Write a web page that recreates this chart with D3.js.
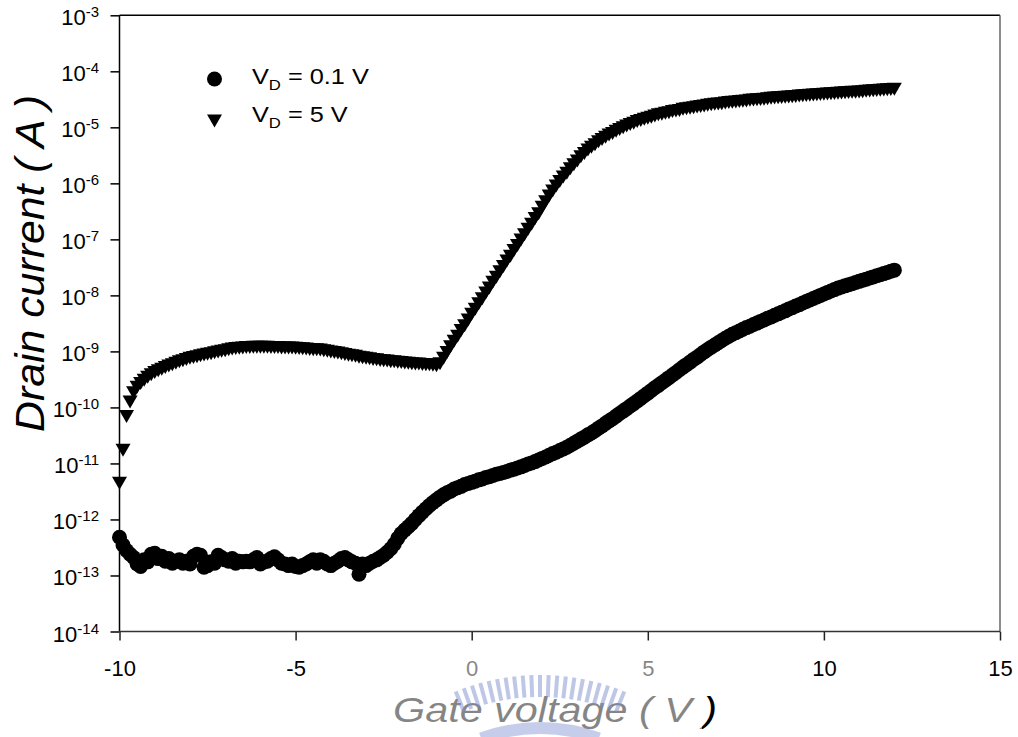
<!DOCTYPE html>
<html>
<head>
<meta charset="utf-8">
<script src="https://cdn.jsdelivr.net/npm/d3@7"></script>
<style>
  html, body { margin: 0; padding: 0; background: #fff; }
  svg { display: block; font-family: Arial, "Liberation Sans", sans-serif; }
</style>
</head>
<body>
<svg id="chart" width="1018" height="737"></svg>
<script>
// Gate sweep: -10 V to 12 V in 0.1 V steps
const gateVoltage = d3.range(-100, 121).map(k => k / 10);

// Drain current (A) at V_D = 0.1 V
const drainCurrentVd01 = [
  4.8e-13, 3.5e-13, 2.8e-13, 2.4e-13, 2.1e-13, 1.6e-13, 1.45e-13, 1.9e-13, 1.75e-13, 2.4e-13,
  2.5e-13, 2.0e-13, 2.2e-13, 1.8e-13, 2.0e-13, 1.65e-13, 1.8e-13, 1.9e-13, 1.65e-13, 1.8e-13,
  1.6e-13, 2.2e-13, 2.4e-13, 2.3e-13, 1.4e-13, 1.5e-13, 1.75e-13, 1.65e-13, 2.3e-13, 2.1e-13,
  1.9e-13, 1.8e-13, 2.0e-13, 1.65e-13, 1.8e-13, 1.75e-13, 1.8e-13, 1.75e-13, 1.9e-13, 2.1e-13,
  1.6e-13, 1.75e-13, 1.8e-13, 2.0e-13, 2.15e-13, 1.9e-13, 1.65e-13, 1.6e-13, 1.5e-13, 1.6e-13,
  1.45e-13, 1.4e-13, 1.5e-13, 1.6e-13, 1.75e-13, 1.9e-13, 1.65e-13, 1.9e-13, 1.8e-13, 1.6e-13,
  1.5e-13, 1.65e-13, 1.8e-13, 2.0e-13, 2.1e-13, 1.9e-13, 1.75e-13, 1.65e-13, 1.05e-13, 1.6e-13,
  1.5e-13, 1.65e-13, 1.8e-13, 1.9e-13, 2.1e-13, 2.3e-13, 2.6e-13, 3.0e-13, 3.6e-13, 4.6e-13,
  5.6e-13, 6.5e-13, 7.4e-13, 8.5e-13, 1.0e-12, 1.17e-12, 1.35e-12, 1.55e-12, 1.78e-12, 2.0e-12,
  2.24e-12, 2.5e-12, 2.75e-12, 3.0e-12, 3.2e-12, 3.5e-12, 3.7e-12, 3.9e-12, 4.2e-12, 4.4e-12,
  4.6e-12, 4.8e-12, 5.1e-12, 5.3e-12, 5.6e-12, 5.8e-12, 6.1e-12, 6.4e-12, 6.6e-12, 6.9e-12,
  7.2e-12, 7.6e-12, 7.9e-12, 8.3e-12, 8.7e-12, 9.2e-12, 9.8e-12, 1.02e-11, 1.08e-11, 1.15e-11,
  1.23e-11, 1.30e-11, 1.40e-11, 1.50e-11, 1.58e-11, 1.70e-11, 1.82e-11, 1.95e-11, 2.11e-11, 2.29e-11,
  2.5e-11, 2.72e-11, 2.95e-11, 3.24e-11, 3.5e-11, 3.85e-11, 4.27e-11, 4.68e-11, 5.2e-11, 5.75e-11,
  6.3e-11, 7.0e-11, 7.8e-11, 8.6e-11, 9.5e-11, 1.06e-10, 1.17e-10, 1.30e-10, 1.45e-10, 1.62e-10,
  1.80e-10, 2.0e-10, 2.24e-10, 2.48e-10, 2.75e-10, 3.05e-10, 3.4e-10, 3.8e-10, 4.2e-10, 4.7e-10,
  5.25e-10, 5.8e-10, 6.45e-10, 7.2e-10, 7.9e-10, 8.8e-10, 9.8e-10, 1.08e-9, 1.19e-9, 1.30e-9,
  1.43e-9, 1.57e-9, 1.72e-9, 1.86e-9, 2.02e-9, 2.16e-9, 2.32e-9, 2.48e-9, 2.66e-9, 2.82e-9,
  3.02e-9, 3.2e-9, 3.43e-9, 3.63e-9, 3.9e-9, 4.12e-9, 4.42e-9, 4.68e-9, 5.0e-9, 5.3e-9,
  5.7e-9, 6.0e-9, 6.45e-9, 6.8e-9, 7.3e-9, 7.8e-9, 8.3e-9, 8.8e-9, 9.4e-9, 1.0e-8,
  1.06e-8, 1.13e-8, 1.20e-8, 1.27e-8, 1.35e-8, 1.41e-8, 1.48e-8, 1.55e-8, 1.62e-8, 1.70e-8,
  1.78e-8, 1.86e-8, 1.95e-8, 2.04e-8, 2.14e-8, 2.24e-8, 2.34e-8, 2.45e-8, 2.57e-8, 2.69e-8,
  2.82e-8
];

// Drain current (A) at V_D = 5 V
const drainCurrentVd5 = [
  4.6e-12, 1.8e-11, 7.2e-11, 1.3e-10, 1.9e-10, 2.4e-10, 2.8e-10, 3.2e-10, 3.6e-10, 4.0e-10,
  4.4e-10, 4.7e-10, 5.0e-10, 5.4e-10, 5.7e-10, 6.0e-10, 6.4e-10, 6.8e-10, 7.1e-10, 7.5e-10,
  7.9e-10, 8.1e-10, 8.4e-10, 8.7e-10, 9.0e-10, 9.3e-10, 9.5e-10, 9.9e-10, 1.02e-9, 1.05e-9,
  1.07e-9, 1.11e-9, 1.15e-9, 1.17e-9, 1.19e-9, 1.20e-9, 1.22e-9, 1.22e-9, 1.23e-9, 1.23e-9,
  1.23e-9, 1.23e-9, 1.23e-9, 1.22e-9, 1.22e-9, 1.22e-9, 1.20e-9, 1.20e-9, 1.20e-9, 1.20e-9,
  1.19e-9, 1.17e-9, 1.16e-9, 1.15e-9, 1.13e-9, 1.12e-9, 1.11e-9, 1.10e-9, 1.07e-9, 1.05e-9,
  1.02e-9, 1.00e-9, 9.8e-10, 9.5e-10, 9.2e-10, 8.9e-10, 8.7e-10, 8.5e-10, 8.2e-10, 8.0e-10,
  7.9e-10, 7.7e-10, 7.5e-10, 7.4e-10, 7.2e-10, 7.1e-10, 7.0e-10, 6.8e-10, 6.8e-10, 6.7e-10,
  6.6e-10, 6.5e-10, 6.4e-10, 6.3e-10, 6.2e-10, 6.2e-10, 6.1e-10, 6.0e-10, 6.0e-10, 5.9e-10,
  5.8e-10, 6.3e-10, 7.9e-10, 1.0e-9, 1.26e-9, 1.58e-9, 1.95e-9, 2.45e-9, 3.0e-9, 3.8e-9,
  4.8e-9, 5.9e-9, 7.4e-9, 9.1e-9, 1.15e-8, 1.41e-8, 1.78e-8, 2.2e-8, 2.75e-8, 3.4e-8,
  4.3e-8, 5.2e-8, 6.6e-8, 8.1e-8, 1.02e-7, 1.26e-7, 1.58e-7, 1.95e-7, 2.45e-7, 3.0e-7,
  3.9e-7, 4.9e-7, 6.2e-7, 7.6e-7, 9.3e-7, 1.12e-6, 1.35e-6, 1.58e-6, 1.9e-6, 2.24e-6,
  2.6e-6, 3.1e-6, 3.55e-6, 4.1e-6, 4.6e-6, 5.1e-6, 5.75e-6, 6.3e-6, 6.9e-6, 7.6e-6,
  8.1e-6, 8.9e-6, 9.5e-6, 1.02e-5, 1.10e-5, 1.17e-5, 1.23e-5, 1.32e-5, 1.38e-5, 1.45e-5,
  1.51e-5, 1.58e-5, 1.66e-5, 1.74e-5, 1.78e-5, 1.86e-5, 1.9e-5, 2.0e-5, 2.04e-5, 2.09e-5,
  2.19e-5, 2.24e-5, 2.29e-5, 2.34e-5, 2.4e-5, 2.45e-5, 2.51e-5, 2.57e-5, 2.63e-5, 2.69e-5,
  2.72e-5, 2.75e-5, 2.82e-5, 2.88e-5, 2.92e-5, 2.95e-5, 3.02e-5, 3.05e-5, 3.09e-5, 3.16e-5,
  3.2e-5, 3.24e-5, 3.27e-5, 3.31e-5, 3.39e-5, 3.43e-5, 3.47e-5, 3.5e-5, 3.55e-5, 3.59e-5,
  3.63e-5, 3.67e-5, 3.72e-5, 3.76e-5, 3.8e-5, 3.85e-5, 3.89e-5, 3.94e-5, 3.98e-5, 4.03e-5,
  4.07e-5, 4.11e-5, 4.15e-5, 4.19e-5, 4.23e-5, 4.27e-5, 4.31e-5, 4.35e-5, 4.39e-5, 4.43e-5,
  4.47e-5, 4.52e-5, 4.57e-5, 4.62e-5, 4.68e-5, 4.73e-5, 4.79e-5, 4.84e-5, 4.9e-5, 4.95e-5,
  5.0e-5
];

const legendLabels = ["0.1 V", "5 V"];
const xTickValues = [-10, -5, 0, 5, 10, 15];
const yTickExponents = [-3, -4, -5, -6, -7, -8, -9, -10, -11, -12, -13, -14];
const xAxisTitle = "Gate voltage ( V )";
const yAxisTitle = "Drain current ( A )";

const svg = d3.select("#chart");
const plot = { left: 119.5, right: 1000, top: 15.3, bottom: 631.5 };

const x = d3.scaleLinear().domain([-10, 15]).range([plot.left, plot.right]);
const y = d3.scaleLog().domain([1e-14, 1e-3]).range([plot.bottom, plot.top]);

const lowVd = gateVoltage.map((v, i) => ({ v, id: drainCurrentVd01[i] }));
const highVd = gateVoltage.map((v, i) => ({ v, id: drainCurrentVd5[i] }));

// downward triangle marker
const triangleDown = {
  draw(ctx) {
    ctx.moveTo(-7.5, -5.5);
    ctx.lineTo(7.5, -5.5);
    ctx.lineTo(0, 7.5);
    ctx.closePath();
  }
};
const triPath = d3.symbol().type(triangleDown)();

// data markers
svg.append("g").selectAll("circle")
  .data(lowVd).join("circle")
  .attr("cx", d => x(d.v)).attr("cy", d => y(d.id))
  .attr("r", 7.5).attr("fill", "#000");

svg.append("g").selectAll("path")
  .data(highVd).join("path")
  .attr("d", triPath)
  .attr("transform", d => `translate(${x(d.v)},${y(d.id)})`)
  .attr("fill", "#000");

// y axis with outward ticks and 10^n labels
const yAxis = d3.axisLeft(y)
  .tickValues(yTickExponents.map(e => Math.pow(10, e)))
  .tickSize(9).tickSizeOuter(0).tickFormat(() => "");
const gy = svg.append("g").attr("transform", `translate(${plot.left},0)`).call(yAxis);
gy.select(".domain").remove();
gy.selectAll(".tick line").attr("stroke", "#000").attr("stroke-width", 1.5);
gy.selectAll(".tick").each(function (d) {
  const e = Math.round(Math.log10(d));
  const t = d3.select(this).append("text")
    .attr("x", -20.5).attr("y", 9.5)
    .attr("text-anchor", "end").attr("fill", "#000")
    .attr("font-size", 22).attr("dy", 0);
  t.append("tspan").text("10");
  t.append("tspan").attr("dy", -8).attr("font-size", 15).text(String(e));
});

// x axis
const xAxis = d3.axisBottom(x)
  .tickValues(xTickValues).tickSize(9).tickSizeOuter(0)
  .tickFormat(d => String(d));
const gx = svg.append("g").attr("transform", `translate(0,${plot.bottom})`).call(xAxis);
gx.select(".domain").remove();
gx.selectAll(".tick line").attr("stroke", "#222").attr("stroke-width", 1.5);
gx.selectAll(".tick text")
  .attr("y", 44.5).attr("dy", 0)
  .attr("font-size", 22).attr("fill", "#000")
  .attr("font-family", "Arial, 'Liberation Sans', sans-serif");

// frame
const frame = svg.append("g").attr("fill", "none").attr("stroke-width", 1.5);
frame.append("line").attr("x1", plot.left).attr("x2", plot.left)
  .attr("y1", plot.top).attr("y2", plot.bottom).attr("stroke", "#000");
frame.append("line").attr("x1", plot.left).attr("x2", plot.right)
  .attr("y1", plot.top).attr("y2", plot.top).attr("stroke", "#000");
frame.append("line").attr("x1", plot.right).attr("x2", plot.right)
  .attr("y1", plot.top).attr("y2", plot.bottom).attr("stroke", "#666");
frame.append("line").attr("x1", plot.left).attr("x2", plot.right)
  .attr("y1", plot.bottom).attr("y2", plot.bottom).attr("stroke", "#333");

// legend
const legend = svg.append("g");
const legendRows = [
  { label: legendLabels[0], marker: "circle", cy: 79, base: 84 },
  { label: legendLabels[1], marker: "triangle", cy: 120, base: 121.7 }
];
legendRows.forEach(r => {
  if (r.marker === "circle") {
    legend.append("circle").attr("cx", 214.5).attr("cy", r.cy).attr("r", 7.5).attr("fill", "#000");
  } else {
    legend.append("path").attr("d", triPath)
      .attr("transform", `translate(214.5,${r.cy})`).attr("fill", "#000");
  }
  const t = legend.append("text")
    .attr("transform", `translate(252,${r.base}) scale(1.15,1)`)
    .attr("font-size", 22).attr("fill", "#000");
  t.append("tspan").text("V");
  t.append("tspan").attr("dy", 6).attr("font-size", 14.5).text("D");
  t.append("tspan").attr("dy", -6).text(" = " + r.label);
});

// axis titles
svg.append("text")
  .attr("transform", "translate(44,263.5) rotate(-90)")
  .attr("text-anchor", "middle").attr("font-style", "italic")
  .attr("font-size", 40).attr("fill", "#000")
  .attr("textLength", 337).attr("lengthAdjust", "spacingAndGlyphs")
  .text(yAxisTitle);

svg.append("text")
  .attr("x", 555).attr("y", 722)
  .attr("text-anchor", "middle").attr("font-style", "italic")
  .attr("font-size", 35).attr("fill", "#000")
  .attr("textLength", 324).attr("lengthAdjust", "spacingAndGlyphs")
  .text(xAxisTitle);

// university emblem watermark over the lower centre
const wm = svg.append("g");
wm.append("rect").attr("x", 385).attr("y", 646).attr("width", 317).attr("height", 91)
  .attr("fill", "#fff").attr("opacity", 0.52);
const ecx = 540, ecy = 900;
const barAngles = d3.range(-22, 22.1, 2.2);
wm.selectAll("rect.bar").data(barAngles).join("rect")
  .attr("class", "bar")
  .attr("x", ecx - 2).attr("y", ecy - 225).attr("width", 4).attr("height", 22)
  .attr("transform", a => `rotate(${a},${ecx},${ecy})`)
  .attr("fill", "#8090d0").attr("opacity", 0.5);
const ring = d3.arc().innerRadius(166).outerRadius(178)
  .startAngle(-20 * Math.PI / 180).endAngle(20 * Math.PI / 180);
wm.append("path").attr("d", ring()).attr("transform", `translate(${ecx},${ecy})`)
  .attr("fill", "#8090d0").attr("opacity", 0.45);
</script>
</body>
</html>
